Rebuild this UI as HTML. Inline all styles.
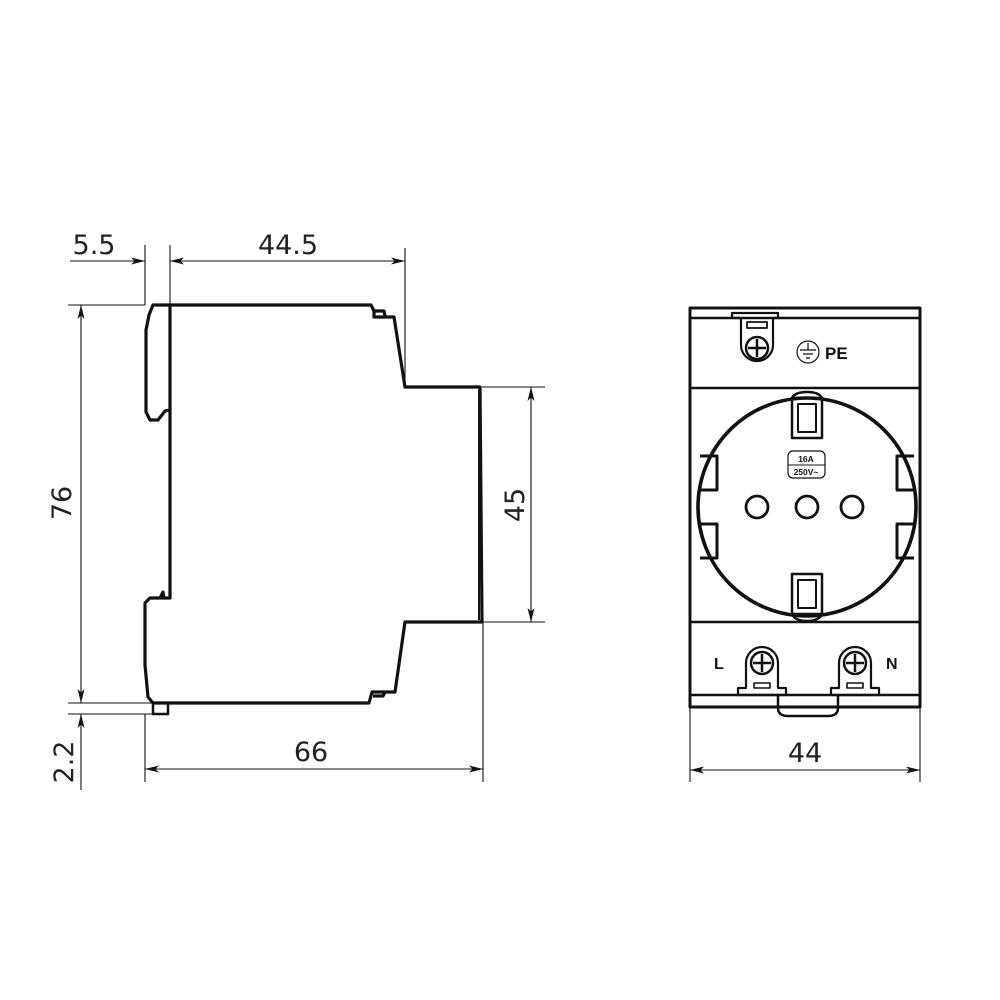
<!DOCTYPE html>
<html><head><meta charset="utf-8"><style>body{margin:0;background:#fff}svg{display:block}</style></head><body>
<svg width="1000" height="1000" viewBox="0 0 1000 1000" xmlns="http://www.w3.org/2000/svg">
<defs>
<marker id="a" viewBox="0 0 12 6" refX="12" refY="3" markerWidth="14" markerHeight="7" markerUnits="userSpaceOnUse" orient="auto-start-reverse"><path d="M0,0 L12,3 L0,6 L3,3 Z" fill="#111"/></marker>
</defs>
<g fill="none" stroke="#111" stroke-width="3.2" stroke-linejoin="round">
<path d="M170,305 L371,305 L374,311 L374,317 L394,317 L405,387 L480,387 L482,622 L405,622 L395,692 L372,692 L369,703 L153,703 L148,697 L145,665 L145,603 L150,598 L170,598 L170,305"/>
<path d="M170,305 L153,305 L149,315 L146,330 L146,412 L150,420 L158,420 L165,411 L170,410"/>
<path d="M374,311 L384,311 L385,316"/>
<path d="M373,696 L383,696 L385,692"/>
<path d="M160,598 L163,592 L164,598"/>
<rect x="153" y="703" width="15" height="11" stroke-width="2.5"/>
<path d="M479,390 L479,620" stroke-width="2"/>
<rect x="690" y="308" width="230" height="399" stroke-width="3"/>
<line x1="690" y1="318" x2="920" y2="318" stroke-width="2.5"/>
<line x1="690" y1="388" x2="920" y2="388" stroke-width="2.5"/>
<line x1="690" y1="622" x2="920" y2="622" stroke-width="2.5"/>
<line x1="690" y1="695" x2="920" y2="695" stroke-width="2.5"/>
<circle cx="807" cy="507" r="109" stroke-width="3.6"/>
<g stroke-width="3">
<path d="M700,456 L717,456 L717,490 L698,490"/>
<path d="M698,524 L717,524 L717,558 L700,558"/>
<path d="M914,456 L897,456 L897,490 L916,490"/>
<path d="M916,524 L897,524 L897,558 L914,558"/>
</g>
<circle cx="757" cy="507" r="11" stroke-width="2.8"/>
<circle cx="807" cy="507" r="11" stroke-width="2.8"/>
<circle cx="852" cy="507" r="11" stroke-width="2.8"/>
<g stroke-width="2.5">
<path d="M792,398 Q795,392 807,392 Q819,392 822,398"/>
<rect x="792" y="398" width="30" height="40"/>
<rect x="798" y="404" width="18" height="28" stroke-width="2"/>
<rect x="792" y="574" width="30" height="40"/>
<rect x="798" y="580" width="18" height="28" stroke-width="2"/>
<path d="M792,614 Q795,621 807,621 Q819,621 822,614"/>
<rect x="788" y="451" width="37" height="27" rx="5" stroke-width="1.2"/>
<line x1="788" y1="465" x2="825" y2="465" stroke-width="1"/>
<path d="M732,313 L778,313 L778,318 L773,318 L773,345 A16,16 0 1 1 741,345 L741,318 L732,318 Z" stroke-width="2.2"/>
<rect x="747" y="322" width="20" height="6" stroke-width="1.8"/>
<circle cx="757" cy="348" r="11"/>
<path d="M757,339 V357 M748,348 H766"/>
<circle cx="808" cy="352" r="11" stroke-width="1.2"/>
<path d="M808,343 V350 M800,350 H816 M803,354 H813 M806,358 H810" stroke-width="1.2"/>
<path d="M746,663 A16,16 0 1 1 778,663 L778,688 L786,688 L786,695 L738,695 L738,688 L746,688 Z" stroke-width="2.2"/>
<circle cx="762" cy="663" r="11"/>
<path d="M762,654 V672 M753,663 H771"/>
<rect x="754" y="683" width="16" height="5" stroke-width="1.6"/>
<path d="M839,663 A16,16 0 1 1 871,663 L871,688 L879,688 L879,695 L831,695 L831,688 L839,688 Z" stroke-width="2.2"/>
<circle cx="855" cy="663" r="11"/>
<path d="M855,654 V672 M846,663 H864"/>
<rect x="847" y="683" width="16" height="5" stroke-width="1.6"/>
<path d="M778,695 L778,708 Q778,716 788,716 L828,716 Q838,716 838,708 L838,695"/>
</g>
</g>
<g stroke="#111" stroke-width="1.1" fill="none">
<line x1="145" y1="245" x2="145" y2="305"/>
<line x1="170" y1="245" x2="170" y2="305"/>
<line x1="405" y1="248" x2="405" y2="387"/>
<line x1="70" y1="261" x2="145" y2="261" marker-end="url(#a)"/>
<line x1="170" y1="261" x2="405" y2="261" marker-start="url(#a)" marker-end="url(#a)"/>
<line x1="68" y1="305" x2="145" y2="305"/>
<line x1="68" y1="703" x2="153" y2="703"/>
<line x1="68" y1="714" x2="153" y2="714"/>
<line x1="81" y1="305" x2="81" y2="703" marker-start="url(#a)" marker-end="url(#a)"/>
<line x1="81" y1="714" x2="81" y2="790" marker-start="url(#a)"/>
<line x1="482" y1="387" x2="545" y2="387"/>
<line x1="482" y1="622" x2="545" y2="622"/>
<line x1="531" y1="387" x2="531" y2="622" marker-start="url(#a)" marker-end="url(#a)"/>
<line x1="145" y1="714" x2="145" y2="782"/>
<line x1="483" y1="622" x2="483" y2="782"/>
<line x1="145" y1="769" x2="483" y2="769" marker-start="url(#a)" marker-end="url(#a)"/>
<line x1="690" y1="707" x2="690" y2="782"/>
<line x1="920" y1="707" x2="920" y2="782"/>
<line x1="690" y1="770" x2="920" y2="770" marker-start="url(#a)" marker-end="url(#a)"/>
</g>
<g font-family="DejaVu Sans, Liberation Sans, sans-serif" font-size="27" fill="#222" text-anchor="middle">
<text x="94" y="254">5.5</text>
<text x="288" y="254">44.5</text>
<text x="311" y="761">66</text>
<text x="805" y="762">44</text>
<text transform="translate(71,503) rotate(-90)">76</text>
<text transform="translate(73,762) rotate(-90)">2.2</text>
<text transform="translate(524,505) rotate(-90)">45</text>
</g>
<g font-family="Liberation Sans, sans-serif" font-weight="bold" fill="#111">
<text x="825" y="359" font-size="17">PE</text>
<text x="714" y="669" font-size="16">L</text>
<text x="886" y="669" font-size="16">N</text>
<text x="806" y="462" font-size="8.5" text-anchor="middle">16A</text>
<text x="806" y="475" font-size="8.5" text-anchor="middle">250V~</text>
</g>
</svg>
</body></html>
